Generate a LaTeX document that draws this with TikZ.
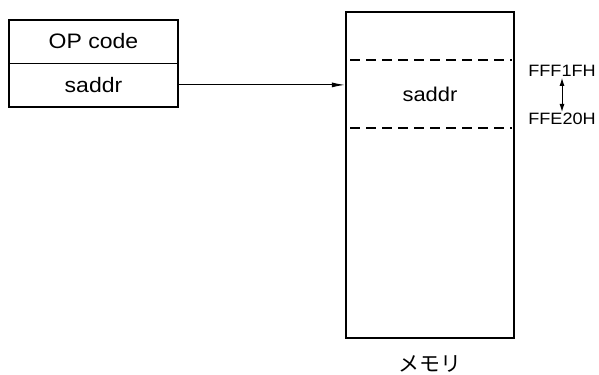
\documentclass[tikz,border=0pt]{standalone}
\usepackage{fontspec}
\setmainfont{Liberation Sans}[FakeStretch=1.1]
\newfontfamily\jpfont{Noto Sans CJK JP}
\usetikzlibrary{arrows.meta}

\begin{document}
\begin{tikzpicture}[x=1bp,y=-1bp]
\useasboundingbox (0,0) rectangle (599,374);
\tikzset{field/.style={minimum width=169bp, minimum height=43bp, inner sep=0pt, font=\fontsize{21}{21}\selectfont},
  frame/.style={line width=2.2bp},
  dashline/.style={line width=1.2bp, dash pattern=on 10bp off 6bp},
  addr/.style={inner sep=1bp, font=\fontsize{16.5}{16.5}\selectfont}}
\node[field] (op) at (93.5,41.5) {OP code};
\node[field, anchor=north] (sa) at (op.south) {saddr};
\draw[frame] (op.north west) rectangle (sa.south east);
\draw[line width=1.2bp] (op.south west) -- (op.south east);
\node[draw, frame, minimum width=168bp, minimum height=326bp] (mem) at (430,175) {};
\draw[dashline] (350,60) -- (512,60);
\draw[dashline] (350,128) -- (512,128);
\node[font=\fontsize{20}{20}\selectfont] (ms) at (430,94) {saddr};
\draw[line width=1bp, -{Latex[length=13bp,width=5bp]}] (sa.east) -- (sa.east -| mem.west);
\node[addr] (hi) at (562,71) {FFF1FH};
\node[addr] (lo) at (562,119) {FFE20H};
\draw[line width=1bp, {Latex[length=8bp,width=5bp]}-{Latex[length=8bp,width=5bp]}] (hi.south) -- (lo.north);
\node[font=\jpfont\fontsize{21}{21}\selectfont] (label) at (430,364) {メモリ};
\end{tikzpicture}
\end{document}
